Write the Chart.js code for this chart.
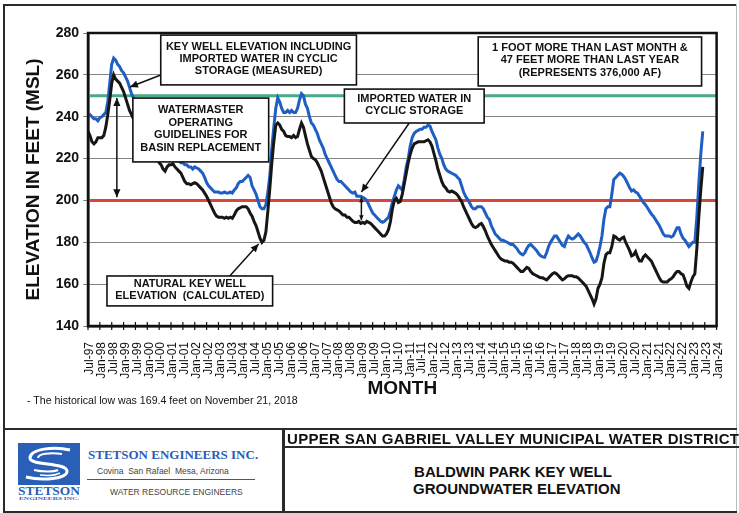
<!DOCTYPE html>
<html>
<head>
<meta charset="utf-8">
<title>Baldwin Park Key Well Groundwater Elevation</title>
<script src="https://cdn.jsdelivr.net/npm/chart.js@4.4.1/dist/chart.umd.min.js"></script>
<style>
  body { margin: 0; background: #fff; }
  #page { position: relative; width: 739px; height: 513px; overflow: hidden; font-family: 'Liberation Sans', Arial, sans-serif; color: #111; }
  #chartBox { position: absolute; left: 0; top: 0; width: 739px; height: 420px; }
  .ln { position: absolute; background: #2a2a2a; }
  .txt { position: absolute; white-space: nowrap; }
</style>
</head>
<body>
<div id="page">
  <div id="chartBox"><canvas id="myChart"></canvas></div>

  <!-- sheet frame -->
  <div class="ln" style="left:3px;top:4px;width:734px;height:2px;"></div>
  <div class="ln" style="left:3px;top:4px;width:2px;height:509px;"></div>
  <div class="ln" style="left:736px;top:4px;width:1px;height:509px;background:#bbb;"></div>

  <div class="txt" style="left:27px;top:394px;font-size:10.6px;">- The historical low was 169.4 feet on November 21, 2018</div>

  <!-- title block -->
  <div class="ln" style="left:3px;top:428px;width:734px;height:2px;"></div>
  <div class="ln" style="left:282px;top:428px;width:3px;height:85px;"></div>
  <div class="ln" style="left:284px;top:446px;width:455px;height:2px;"></div>
  <div class="ln" style="left:3px;top:511px;width:734px;height:2px;"></div>

  <div class="txt" style="left:287px;top:430px;font-size:15px;font-weight:bold;letter-spacing:0.3px;">UPPER SAN GABRIEL VALLEY MUNICIPAL WATER DISTRICT</div>
  <div class="txt" style="left:413px;top:463px;width:200px;text-align:center;font-size:15px;font-weight:bold;line-height:17px;">BALDWIN PARK KEY WELL<br>GROUNDWATER ELEVATION</div>

  <svg style="position:absolute;left:18px;top:443px;" width="64" height="58" viewBox="0 0 64 58">
    <rect x="0" y="0" width="62" height="42" fill="#2a5fb8"/>
    <path d="M52 7 C36 3 12 6 12 15 C12 23 48 19 49 28 C50 36 24 38 8 34" fill="none" stroke="#fff" stroke-width="3"/>
    <path d="M44 11 C32 9 20 11 20 15" fill="none" stroke="#fff" stroke-width="2"/>
    <path d="M16 27 C24 29 36 29 40 27" fill="none" stroke="#fff" stroke-width="2"/>
    <path d="M22 32 C30 33 38 32 42 30" fill="none" stroke="#fff" stroke-width="1.5"/>
    <text x="31" y="52" text-anchor="middle" font-family="'Liberation Serif', serif" font-weight="bold" font-size="12" fill="#2a5fb8" textLength="62" lengthAdjust="spacingAndGlyphs">STETSON</text>
    <text x="31" y="57" text-anchor="middle" font-family="'Liberation Serif', serif" font-weight="bold" font-size="5" fill="#2a5fb8" textLength="60" lengthAdjust="spacingAndGlyphs">ENGINEERS INC.</text>
  </svg>
  <div class="txt" style="left:88px;top:447px;font-family:'Liberation Serif',serif;font-weight:bold;font-size:13px;color:#2b5db8;">STETSON ENGINEERS INC.</div>
  <div class="txt" style="left:97px;top:466px;font-size:8.5px;color:#444;">Covina&nbsp; San Rafael&nbsp; Mesa, Arizona</div>
  <div class="ln" style="left:87px;top:479px;width:168px;height:1px;background:#555;"></div>
  <div class="txt" style="left:110px;top:487px;font-size:8.5px;color:#444;">WATER RESOURCE ENGINEERS</div>
</div>

<script>
// half-year tick labels, Jul-97 .. Jan-24
const tickLabels = [
    'Jul-97', 'Jan-98', 'Jul-98', 'Jan-99', 'Jul-99', 'Jan-00', 'Jul-00', 'Jan-01', 'Jul-01',
    'Jan-02', 'Jul-02', 'Jan-03', 'Jul-03', 'Jan-04', 'Jul-04', 'Jan-05', 'Jul-05', 'Jan-06',
    'Jul-06', 'Jan-07', 'Jul-07', 'Jan-08', 'Jul-08', 'Jan-09', 'Jul-09', 'Jan-10', 'Jul-10',
    'Jan-11', 'Jul-11', 'Jan-12', 'Jul-12', 'Jan-13', 'Jul-13', 'Jan-14', 'Jul-14', 'Jan-15',
    'Jul-15', 'Jan-16', 'Jul-16', 'Jan-17', 'Jul-17', 'Jan-18', 'Jul-18', 'Jan-19', 'Jul-19',
    'Jan-20', 'Jul-20', 'Jan-21', 'Jul-21', 'Jan-22', 'Jul-22', 'Jan-23', 'Jul-23', 'Jan-24',
];

// monthly key well elevation incl. imported water in cyclic storage (measured), from Jul-97
const measured = [
    240, 241, 240, 239, 239, 238,                                              // 1997
    239.5, 240, 241, 242, 247, 256, 265, 268, 267, 265, 264, 262,              // 1998
    261, 259, 257, 254, 251, 249, 247, 245, 243, 241, 239, 238,                // 1999
    236, 234, 232, 230, 229, 228, 226, 225, 224, 223, 222, 221,                // 2000
    221, 220, 220, 219, 219, 218, 218, 217, 217, 216, 216, 215,                // 2001
    216, 215.5, 215, 214, 213, 211, 208.5, 207, 206, 205, 204, 204,            // 2002
    204, 203.5, 203.5, 204, 203.5, 203.5, 204, 203.5, 205, 206, 208, 209,      // 2003
    209, 210, 211, 212, 211, 207, 205, 203, 200, 197, 196, 196,                // 2004
    198, 204, 212, 225, 235, 244, 249, 247, 244, 242, 242, 243,                // 2005
    242, 243, 242, 242, 244, 248, 251, 250, 246, 244, 240, 237,                // 2006
    236, 234, 232, 229, 227, 225, 222, 220, 218, 216, 214, 212,                // 2007
    210, 209, 209, 208, 207, 206, 205, 204, 203.5, 204, 202, 202,              // 2008
    202, 201.5, 201, 200, 198, 196, 194, 193, 192, 191, 190, 189.5,            // 2009
    190, 191, 192, 195, 199, 202, 205, 207, 206, 205, 210, 216,                // 2010
    220, 226, 230, 232, 233, 233.5, 234, 234, 235, 235, 236, 235.5,            // 2011
    233, 231, 229, 225, 222, 220, 217, 215, 214, 213.5, 213, 212.5,            // 2012
    212, 211, 210, 207, 204, 202, 200.5, 199, 197, 196, 196, 197,              // 2013
    197, 197, 196, 194, 192, 191, 188, 186, 184, 183, 182, 181,                // 2014
    181, 180.5, 180, 179.5, 179, 179, 178, 177, 175.5, 174.5, 174, 175,        // 2015
    177, 178.5, 179, 178, 177, 176, 174.5, 173.5, 173, 172.8, 175, 178,        // 2016
    180, 181.5, 183, 183, 181.5, 180, 178.5, 178, 181, 183, 182, 181.5,        // 2017
    182, 183, 184, 183, 181.5, 180, 179, 177, 175, 172.5, 170.5, 171,          // 2018
    174, 178, 183, 191, 196, 197, 197, 203, 210, 211, 212, 213,                // 2019
    212.5, 211.5, 210, 208, 206, 204.5, 205, 204, 203.5, 202, 200.5, 199,      // 2020
    198, 196.5, 195, 193.5, 192.5, 191, 189.5, 188, 186, 184, 183, 183,        // 2021
    183, 182.5, 183, 185, 187, 187, 184, 182, 181, 179.5, 178, 179,            // 2022
    180, 180, 192, 208, 222, 233,                                              // 2023
];

// monthly natural key well elevation (calculated), from Jul-97
const natural = [
    233, 231, 228, 227, 228, 230,                                              // 1997
    230, 230, 231, 235, 241, 248, 256, 260, 258, 257, 256, 254,                // 1998
    252, 249, 246, 243, 241, 239, 237, 235, 233, 231, 229, 228,                // 1999
    227, 226, 225, 224, 222, 220, 218, 217, 215, 214, 216, 217,                // 2000
    217, 217.5, 216, 215, 214, 213, 211, 209, 208, 208, 207.5, 208,            // 2001
    208.5, 208, 207, 206, 205, 203.5, 202, 200, 198, 196, 194, 192.5,          // 2002
    192, 192, 192, 191.5, 192, 191.5, 192, 191.5, 193, 195, 196, 196.5,        // 2003
    197, 197, 197, 196, 194, 192.5, 190, 188, 185, 182, 180, 181,              // 2004
    185, 195, 206, 218, 228, 236, 237, 236, 234, 233, 231, 230.5,              // 2005
    230.5, 230, 231, 230, 230.5, 234, 237, 235, 231, 227, 224, 221,            // 2006
    220, 219.5, 218, 216, 214, 211, 208, 205, 202, 199, 197, 196,              // 2007
    195.5, 195, 194, 193, 193, 192, 192, 191, 190, 189.5, 189.5, 190,          // 2008
    189, 189.5, 189, 190, 189.5, 189, 188, 187, 186, 185, 184, 183,            // 2009
    183, 184, 186, 190, 196, 200, 201, 199, 199.5, 203, 208, 213,              // 2010
    218, 222, 225, 227, 227.5, 228, 228, 228, 228, 228.5, 229, 228,            // 2011
    226, 222.5, 219, 215, 212, 209, 207, 206, 204.5, 204, 204.5, 204,          // 2012
    203.5, 202.5, 201, 199.5, 197, 195, 193, 191, 189, 187.5, 187, 187.5,      // 2013
    188.5, 189, 187.5, 185.5, 183, 181, 179, 177.5, 176, 174.5, 173, 172,      // 2014
    171.5, 171, 171, 170.5, 170.5, 170, 169, 168, 167, 166, 166, 167,          // 2015
    168, 167.5, 166, 165, 164.5, 164, 163.5, 163, 163, 162.5, 162, 163,        // 2016
    164, 165, 165.5, 165, 164, 163, 162, 162.5, 163.5, 164, 164, 164,          // 2017
    163.5, 163.5, 163, 162, 161, 160, 159, 157, 155, 153, 150.5, 153,          // 2018
    158, 160, 163, 170, 174, 175, 175, 178, 183, 182.5, 181.5, 181,            // 2019
    182, 182.5, 180, 178, 176, 173.5, 174, 175.5, 173, 171, 171, 173,          // 2020
    174, 173, 172, 171, 169, 167, 165, 163, 161.5, 161, 161, 161,              // 2021
    162, 162.5, 163.5, 165, 166, 166, 165, 164.5, 162, 159, 158, 161,          // 2022
    163.5, 165, 177, 192, 205, 216,                                            // 2023
];

const guideUpper = 250;   // watermaster operating guidelines
const guideLower = 200;

const FONT = "'Liberation Sans', Arial, sans-serif";
const lastX = (tickLabels.length - 1) * 6;

const pts = arr => arr.map((v, i) => ({ x: i, y: v }));
const flat = v => [{ x: 0, y: v }, { x: lastX, y: v }];

// call-out boxes, positioned in axis units (month index, feet)
const notes = [
    { x0: 36.8, x1: 135.8, y0: 279, y1: 255.2,
      text: ['KEY WELL ELEVATION INCLUDING', 'IMPORTED WATER IN CYCLIC', 'STORAGE (MEASURED)'] },
    { x0: 22.7, x1: 91.4, y0: 248.9, y1: 218.4,
      text: ['WATERMASTER', 'OPERATING', 'GUIDELINES FOR', 'BASIN REPLACEMENT'] },
    { x0: 129.7, x1: 200.4, y0: 253.2, y1: 237,
      text: ['IMPORTED WATER IN', 'CYCLIC STORAGE'] },
    { x0: 197.4, x1: 310.4, y0: 278.1, y1: 254.7,
      text: ['1 FOOT MORE THAN LAST MONTH &', '47 FEET MORE THAN LAST YEAR', '(REPRESENTS 376,000 AF)'] },
    { x0: 9.6, x1: 93.4, y0: 163.9, y1: 149.6,
      text: ['NATURAL KEY WELL', 'ELEVATION  (CALCULATED)'] },
];
const arrows = [
    { from: [36.8, 259.9], to: [21.2, 254.2], both: false, head: 8 },
    { from: [14.6, 201.5], to: [14.6, 249], both: true, head: 8 },
    { from: [162.5, 237], to: [138.3, 204], both: false, head: 8 },
    { from: [138.3, 190.5], to: [138.3, 201.5], both: true, head: 5 },
    { from: [71.7, 163.9], to: [86.3, 179.2], both: false, head: 8 },
];

function head(ctx, x1, y1, x2, y2, size) {
    const a = Math.atan2(y2 - y1, x2 - x1);
    ctx.beginPath();
    ctx.moveTo(x2, y2);
    ctx.lineTo(x2 - size * Math.cos(a) + size * 0.45 * Math.sin(a), y2 - size * Math.sin(a) - size * 0.45 * Math.cos(a));
    ctx.lineTo(x2 - size * Math.cos(a) - size * 0.45 * Math.sin(a), y2 - size * Math.sin(a) + size * 0.45 * Math.cos(a));
    ctx.closePath();
    ctx.fill();
}

const extras = {
    id: 'extras',
    afterDraw(chart) {
        const ctx = chart.ctx;
        const xs = chart.scales.x, ys = chart.scales.y;
        const a = chart.chartArea;
        ctx.save();
        ctx.strokeStyle = '#111';
        ctx.fillStyle = '#111';

        // plot frame
        ctx.lineWidth = 2.5;
        ctx.strokeRect(a.left, a.top, a.right - a.left, a.bottom - a.top);

        // crossing tick marks on the month axis
        ctx.lineWidth = 1.2;
        tickLabels.forEach((_, i) => {
            const px = xs.getPixelForValue(i * 6);
            ctx.beginPath();
            ctx.moveTo(px, a.bottom - 4);
            ctx.lineTo(px, a.bottom + 4);
            ctx.stroke();
        });

        // arrows
        ctx.lineWidth = 1.5;
        arrows.forEach(ar => {
            const x1 = xs.getPixelForValue(ar.from[0]), y1 = ys.getPixelForValue(ar.from[1]);
            const x2 = xs.getPixelForValue(ar.to[0]), y2 = ys.getPixelForValue(ar.to[1]);
            ctx.beginPath();
            ctx.moveTo(x1, y1);
            ctx.lineTo(x2, y2);
            ctx.stroke();
            head(ctx, x1, y1, x2, y2, ar.head);
            if (ar.both) head(ctx, x2, y2, x1, y1, ar.head);
        });

        // boxes
        ctx.font = 'bold 11px ' + FONT;
        ctx.textAlign = 'center';
        ctx.textBaseline = 'middle';
        notes.forEach(n => {
            const l = xs.getPixelForValue(n.x0), r = xs.getPixelForValue(n.x1);
            const t = ys.getPixelForValue(n.y0), b = ys.getPixelForValue(n.y1);
            ctx.fillStyle = '#fff';
            ctx.fillRect(l, t, r - l, b - t);
            ctx.lineWidth = 1.6;
            ctx.strokeRect(l, t, r - l, b - t);
            ctx.fillStyle = '#111';
            const lh = 12.4;
            const cy = (t + b) / 2 - 1 - (n.text.length - 1) * lh / 2;
            n.text.forEach((s, k) => ctx.fillText(s, (l + r) / 2, cy + k * lh));
        });
        ctx.restore();
    }
};

const ctx = document.getElementById('myChart');
new Chart(ctx, {
    type: 'line',
    data: {
        datasets: [
            {
                label: 'Natural Key Well Elevation (Calculated)',
                data: pts(natural),
                borderColor: '#161616',
                borderWidth: 3,
                order: 1
            },
            {
                label: 'Key Well Elevation (Measured)',
                data: pts(measured),
                borderColor: '#1f5fc4',
                borderWidth: 3,
                order: 2
            },
            {
                label: 'Upper guideline',
                data: flat(guideUpper),
                borderColor: '#49a98b',
                borderWidth: 3,
                order: 3
            },
            {
                label: 'Lower guideline',
                data: flat(guideLower),
                borderColor: '#d8473b',
                borderWidth: 3,
                order: 3
            },
        ]
    },
    options: {
        responsive: true,
        maintainAspectRatio: false,
        animation: false,
        elements: { point: { radius: 0 }, line: { tension: 0 } },
        layout: { padding: { left: 0, top: 33, right: 21, bottom: 0 } },
        plugins: {
            legend: { display: false },
            tooltip: { enabled: false }
        },
        scales: {
            x: {
                type: 'linear',
                min: 0,
                max: lastX,
                afterBuildTicks: scale => { scale.ticks = tickLabels.map((_, i) => ({ value: i * 6 })); },
                afterFit: scale => { scale.height = 94; },
                ticks: {
                    autoSkip: false,
                    minRotation: 90,
                    maxRotation: 90,
                    padding: 8,
                    labelOffset: 2,
                    color: '#111',
                    font: { family: FONT, size: 12 },
                    callback: (v, i) => tickLabels[i]
                },
                grid: { display: false },
                border: { color: '#111', width: 2.5 },
                title: {
                    display: true,
                    text: 'MONTH',
                    color: '#111',
                    font: { family: FONT, size: 19, weight: 'bold' },
                    padding: { top: 0, bottom: 20 }
                }
            },
            y: {
                min: 140,
                max: 280,
                afterFit: scale => { scale.width = 88; },
                ticks: {
                    stepSize: 20,
                    padding: 4,
                    color: '#111',
                    font: { family: FONT, size: 14, weight: 'bold' }
                },
                grid: { color: '#858585', lineWidth: 1, tickLength: 5 },
                border: { color: '#111', width: 2.5 },
                title: {
                    display: true,
                    text: 'ELEVATION IN FEET (MSL)',
                    color: '#111',
                    font: { family: FONT, size: 19, weight: 'bold' },
                    padding: { top: 22, bottom: 0 }
                }
            }
        }
    },
    plugins: [extras]
});
</script>
</body>
</html>
